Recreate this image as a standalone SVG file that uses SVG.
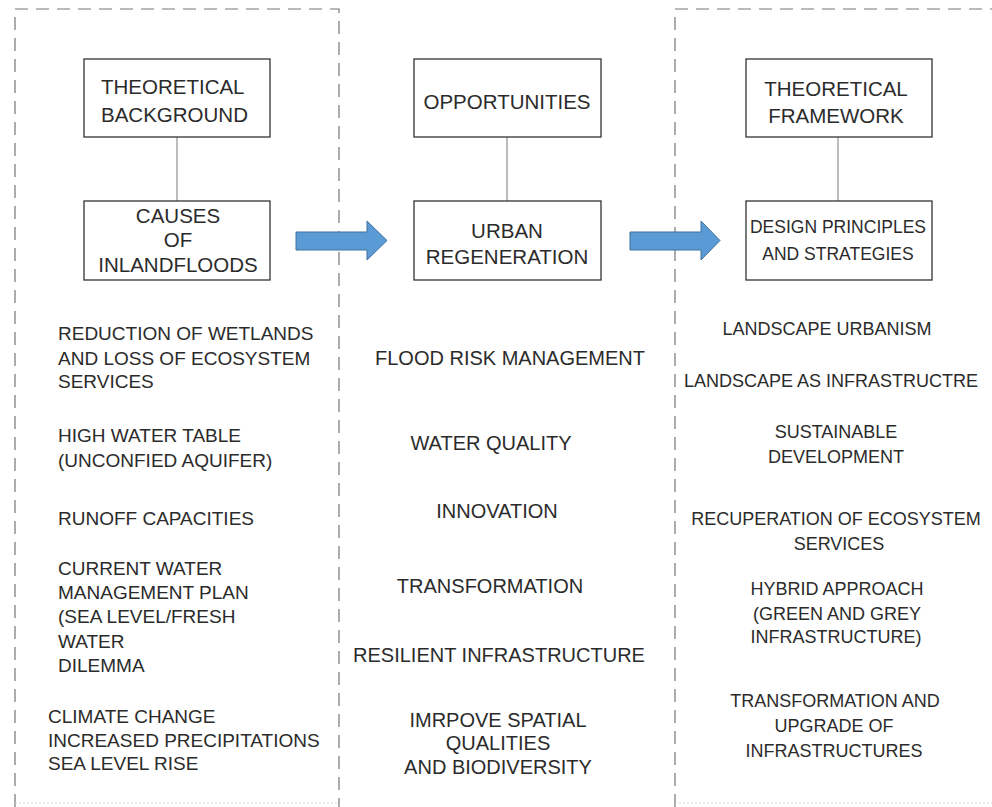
<svg xmlns="http://www.w3.org/2000/svg" width="992" height="807" viewBox="0 0 992 807">
<style>
text{font-family:"Liberation Sans",Arial,sans-serif;fill:#2b2b2b}
.box{fill:#fff;stroke:#333;stroke-width:1.3}
.frame{fill:none;stroke:#767676;stroke-width:1.2;stroke-dasharray:13 8}
.faint{fill:none;stroke:#d6d6d6;stroke-width:1;stroke-dasharray:2 2}
.link{stroke:#a6a6a6;stroke-width:1.5;fill:none}
.arrow{fill:#5b9bd5;stroke:#41719c;stroke-width:1}
.bt{font-size:20.5px}
.bts{font-size:17.5px}
.l{font-size:19px}
.m{font-size:20px;text-anchor:middle}
.r{font-size:18px;text-anchor:middle}
.c{text-anchor:middle}
</style>
<rect width="992" height="807" fill="#fff"/>
<g id="frames">
<path class="frame" d="M15,807 V9 H339 V807"/>
<path class="frame" d="M675,807 V9 H992"/>
<line class="faint" x1="15" y1="803" x2="339" y2="803"/>
<line class="faint" x1="675" y1="803" x2="992" y2="803"/>
</g>
<g id="connectors">
<line class="link" x1="177" y1="137" x2="177" y2="201"/>
<line class="link" x1="507" y1="137" x2="507" y2="201"/>
<line class="link" x1="838" y1="137" x2="838" y2="201"/>
<path class="arrow" d="M296,232 H367 V221 L387,240.5 L367,260 V250 H296 Z"/>
<path class="arrow" d="M630,232 H701 V221 L720,240.5 L701,260 V250 H630 Z"/>
</g>
<g id="theoretical-background">
<rect class="box" x="84" y="59" width="186" height="78"/>
<text class="bt" x="101" y="94">THEORETICAL</text>
<text class="bt" x="101" y="122">BACKGROUND</text>
</g>
<g id="causes">
<rect class="box" x="84" y="201" width="186" height="79"/>
<text class="bt c" x="178" y="223">CAUSES</text>
<text class="bt c" x="178" y="247">OF</text>
<text class="bt c" x="178" y="272">INLANDFLOODS</text>
</g>
<g id="opportunities">
<rect class="box" x="414" y="59" width="187" height="78"/>
<text class="bt c" x="507" y="109">OPPORTUNITIES</text>
</g>
<g id="urban-regeneration">
<rect class="box" x="414" y="201" width="187" height="79"/>
<text class="bt c" x="507" y="238">URBAN</text>
<text class="bt c" x="507" y="264">REGENERATION</text>
</g>
<g id="theoretical-framework">
<rect class="box" x="746" y="59" width="186" height="78"/>
<text class="bt c" x="836" y="96">THEORETICAL</text>
<text class="bt c" x="836" y="123">FRAMEWORK</text>
</g>
<g id="design-principles">
<rect class="box" x="746" y="201" width="186" height="79"/>
<text class="bts c" x="838" y="233">DESIGN PRINCIPLES</text>
<text class="bts c" x="838" y="260">AND STRATEGIES</text>
</g>
<g id="causes-list">
<text class="l" x="58" y="340">REDUCTION OF WETLANDS</text>
<text class="l" x="58" y="365">AND LOSS OF ECOSYSTEM</text>
<text class="l" x="58" y="388">SERVICES</text>
<text class="l" x="58" y="442">HIGH WATER TABLE</text>
<text class="l" x="58" y="467">(UNCONFIED AQUIFER)</text>
<text class="l" x="58" y="525">RUNOFF CAPACITIES</text>
<text class="l" x="58" y="575">CURRENT WATER</text>
<text class="l" x="58" y="599">MANAGEMENT PLAN</text>
<text class="l" x="58" y="623">(SEA LEVEL/FRESH</text>
<text class="l" x="58" y="648">WATER</text>
<text class="l" x="58" y="672">DILEMMA</text>
<text class="l" x="48" y="723">CLIMATE CHANGE</text>
<text class="l" x="48" y="747">INCREASED PRECIPITATIONS</text>
<text class="l" x="48" y="770">SEA LEVEL RISE</text>
</g>
<g id="opportunities-list">
<text class="m" x="510" y="365">FLOOD RISK MANAGEMENT</text>
<text class="m" x="491" y="450">WATER QUALITY</text>
<text class="m" x="497" y="518">INNOVATION</text>
<text class="m" x="490" y="593">TRANSFORMATION</text>
<text class="m" x="499" y="662">RESILIENT INFRASTRUCTURE</text>
<text class="m" x="498" y="727">IMRPOVE SPATIAL</text>
<text class="m" x="498" y="750">QUALITIES</text>
<text class="m" x="498" y="774">AND BIODIVERSITY</text>
</g>
<g id="framework-list">
<text class="r" x="827" y="335">LANDSCAPE URBANISM</text>
<text class="r" x="831" y="387">LANDSCAPE AS INFRASTRUCTRE</text>
<text class="r" x="836" y="438">SUSTAINABLE</text>
<text class="r" x="836" y="463">DEVELOPMENT</text>
<text class="r" x="836" y="525">RECUPERATION OF ECOSYSTEM</text>
<text class="r" x="839" y="550">SERVICES</text>
<text class="r" x="837" y="595">HYBRID APPROACH</text>
<text class="r" x="837" y="620">(GREEN AND GREY</text>
<text class="r" x="836" y="643">INFRASTRUCTURE)</text>
<text class="r" x="835" y="707">TRANSFORMATION AND</text>
<text class="r" x="834" y="732">UPGRADE OF</text>
<text class="r" x="834" y="757">INFRASTRUCTURES</text>
</g>
</svg>
